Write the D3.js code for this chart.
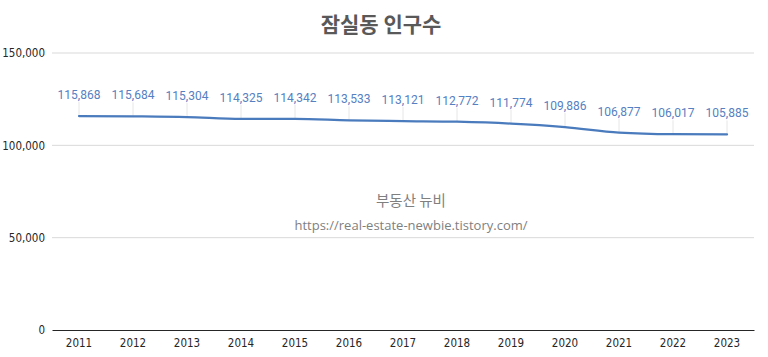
<!DOCTYPE html>
<html><head><meta charset="utf-8">
<script src="https://cdn.jsdelivr.net/npm/d3@7"></script>
<style>body{margin:0;background:#fff}</style>
</head><body>
<svg id="c" width="768" height="357"></svg>
<script>
const years = ["2011","2012","2013","2014","2015","2016","2017","2018","2019","2020","2021","2022","2023"];
const population = [115868,115684,115304,114325,114342,113533,113121,112772,111774,109886,106877,106017,105885];
const yTicks = [0,50000,100000,150000];
const title = "잠실동 인구수";
const watermark = ["부동산 뉴비","https://real-estate-newbie.tistory.com/"];

(function(){
const svg = d3.select("#c");
const mLeft = 52, mRight = 754, mTop = 53, mBottom = 330;
const x = d3.scaleBand().domain(years).range([mLeft, mRight]);
const y = d3.scaleLinear().domain([0,150000]).range([mBottom, mTop]);
const fmt = d3.format(",");

// gridlines
svg.append("g").selectAll("line").data(yTicks.filter(d=>d>0)).join("line")
  .attr("x1", mLeft).attr("x2", mRight)
  .attr("y1", d=>y(d)).attr("y2", d=>y(d))
  .attr("stroke", "#d9d9d9").attr("stroke-width", 1);

// y axis labels
const ya = svg.append("g").attr("transform", `translate(${mLeft},0)`)
  .call(d3.axisLeft(y).tickValues(yTicks).tickFormat(fmt).tickSize(0).tickPadding(7));
ya.select(".domain").remove();
ya.selectAll("text").attr("font-family","'Liberation Sans Narrow','DejaVu Sans Condensed',sans-serif")
  .attr("font-size", 11.5).attr("fill", "#262626");

// x axis
const xa = svg.append("g").attr("transform", `translate(0,${mBottom})`)
  .call(d3.axisBottom(x).tickSize(0).tickPadding(9));
xa.select(".domain").attr("stroke", "#262626").attr("stroke-width", 1);
xa.selectAll("text").attr("font-family","'Liberation Sans Narrow','DejaVu Sans Condensed',sans-serif")
  .attr("font-size", 11.5).attr("fill", "#262626");

// watermark
svg.append("text").attr("x", 411).attr("y", 206).attr("text-anchor","middle")
  .attr("font-family","'Noto Sans CJK KR',sans-serif").attr("font-size", 14.5).attr("fill","#7f7f7f").text(watermark[0]);
svg.append("text").attr("x", 411).attr("y", 230).attr("text-anchor","middle")
  .attr("font-family","'Open Sans',sans-serif").attr("font-size", 13).attr("fill","#7f7f7f").text(watermark[1]);

const cx = d => x(d) + x.bandwidth()/2;

// leader lines
svg.append("g").selectAll("line").data(years).join("line")
  .attr("x1", d=>cx(d)).attr("x2", d=>cx(d))
  .attr("y1", (d,i)=>y(population[i]) - 14).attr("y2", (d,i)=>y(population[i]))
  .attr("stroke", "#e6e6e6").attr("stroke-width", 1);

// line
const line = d3.line().x((d,i)=>cx(years[i])).y(d=>y(d)).curve(d3.curveMonotoneX);
svg.append("path").datum(population).attr("d", line)
  .attr("fill","none").attr("stroke","#4a7bbd").attr("stroke-width",2.25).attr("stroke-linecap","round");

// data labels
svg.append("g").selectAll("text").data(population).join("text")
  .attr("x", (d,i)=>cx(years[i])).attr("y", d=>y(d) - 17)
  .attr("text-anchor","middle").attr("font-family","Roboto,sans-serif").attr("font-size", 12)
  .attr("fill","#5580c2").text(d=>fmt(d));

// title
svg.append("text").attr("x", 381).attr("y", 32).attr("text-anchor","middle")
  .attr("font-family","'Noto Sans CJK KR',sans-serif").attr("font-weight","bold")
  .attr("font-size", 21).attr("fill","#595959").text(title);
})();
</script>
</body></html>
